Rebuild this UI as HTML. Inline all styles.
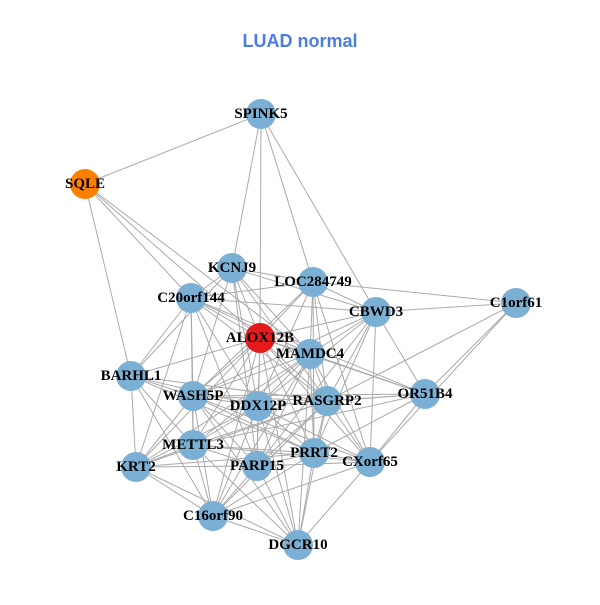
<!DOCTYPE html>
<html><head><style>
body{margin:0;background:#fff;width:600px;height:600px;overflow:hidden}
text{font-family:"Liberation Serif",serif;font-weight:bold;font-size:15px;text-anchor:middle;dominant-baseline:central}
</style></head><body>
<svg width="600" height="600" xmlns="http://www.w3.org/2000/svg">
<text x="300" y="41" style="font-family:'Liberation Sans',sans-serif;font-size:18px;fill:#4d7be6">LUAD normal</text>
<g stroke="#aaa" stroke-width="1" id="e"></g>
<g id="n"></g>
</svg>
<script>
var N={SPINK5:[261,114],SQLE:[85,184],KCNJ9:[232,268],LOC284749:[313,282],C20orf144:[191,298],CBWD3:[376,312],C1orf61:[516,303],ALOX12B:[260,338],MAMDC4:[310,354],BARHL1:[131,376],WASH5P:[193,396],DDX12P:[258,406],RASGRP2:[327,401],OR51B4:[425,394],METTL3:[193,445],PRRT2:[314,453],KRT2:[136,467],PARP15:[257,466],CXorf65:[370,462],C16orf90:[213,516],DGCR10:[298,545]};
var E="SPINK5 SQLE,SPINK5 KCNJ9,SPINK5 ALOX12B,SPINK5 LOC284749,SPINK5 CBWD3,SQLE C20orf144,SQLE BARHL1,SQLE ALOX12B,SQLE MAMDC4,KCNJ9 LOC284749,KCNJ9 C20orf144,KCNJ9 ALOX12B,KCNJ9 MAMDC4,KCNJ9 WASH5P,KCNJ9 DDX12P,KCNJ9 RASGRP2,KCNJ9 BARHL1,KCNJ9 PARP15,KCNJ9 CBWD3,LOC284749 C1orf61,LOC284749 C20orf144,LOC284749 CBWD3,LOC284749 ALOX12B,LOC284749 MAMDC4,LOC284749 DDX12P,LOC284749 RASGRP2,LOC284749 PRRT2,LOC284749 WASH5P,LOC284749 CXorf65,C20orf144 CBWD3,C20orf144 ALOX12B,C20orf144 MAMDC4,C20orf144 BARHL1,C20orf144 WASH5P,C20orf144 DDX12P,C20orf144 METTL3,C20orf144 RASGRP2,C20orf144 OR51B4,C20orf144 PARP15,C20orf144 KRT2,CBWD3 C1orf61,CBWD3 ALOX12B,CBWD3 MAMDC4,CBWD3 RASGRP2,CBWD3 DDX12P,CBWD3 PRRT2,CBWD3 CXorf65,CBWD3 PARP15,CBWD3 OR51B4,CBWD3 WASH5P,C1orf61 OR51B4,C1orf61 CXorf65,C1orf61 RASGRP2,ALOX12B MAMDC4,ALOX12B BARHL1,ALOX12B WASH5P,ALOX12B DDX12P,ALOX12B RASGRP2,ALOX12B OR51B4,ALOX12B METTL3,ALOX12B PARP15,ALOX12B PRRT2,ALOX12B KRT2,ALOX12B CXorf65,ALOX12B C16orf90,ALOX12B DGCR10,MAMDC4 WASH5P,MAMDC4 DDX12P,MAMDC4 RASGRP2,MAMDC4 OR51B4,MAMDC4 METTL3,MAMDC4 PRRT2,MAMDC4 PARP15,MAMDC4 CXorf65,MAMDC4 KRT2,MAMDC4 C16orf90,MAMDC4 DGCR10,BARHL1 WASH5P,BARHL1 DDX12P,BARHL1 KRT2,BARHL1 METTL3,BARHL1 PRRT2,BARHL1 C16orf90,BARHL1 RASGRP2,WASH5P DDX12P,WASH5P RASGRP2,WASH5P METTL3,WASH5P KRT2,WASH5P PARP15,WASH5P PRRT2,WASH5P CXorf65,WASH5P C16orf90,WASH5P DGCR10,WASH5P OR51B4,DDX12P RASGRP2,DDX12P METTL3,DDX12P PARP15,DDX12P PRRT2,DDX12P CXorf65,DDX12P KRT2,DDX12P C16orf90,DDX12P DGCR10,DDX12P OR51B4,RASGRP2 OR51B4,RASGRP2 METTL3,RASGRP2 PRRT2,RASGRP2 PARP15,RASGRP2 CXorf65,RASGRP2 KRT2,RASGRP2 C16orf90,RASGRP2 DGCR10,OR51B4 CXorf65,OR51B4 PRRT2,OR51B4 METTL3,METTL3 KRT2,METTL3 PARP15,METTL3 PRRT2,METTL3 C16orf90,METTL3 DGCR10,METTL3 CXorf65,PRRT2 PARP15,PRRT2 CXorf65,PRRT2 C16orf90,PRRT2 DGCR10,PRRT2 KRT2,KRT2 C16orf90,KRT2 DGCR10,KRT2 PARP15,PARP15 C16orf90,PARP15 DGCR10,PARP15 CXorf65,CXorf65 DGCR10,CXorf65 C16orf90,C16orf90 DGCR10".split(",");
var s="http://www.w3.org/2000/svg",ge=document.getElementById("e"),gn=document.getElementById("n");
E.forEach(function(p){var a=p.split(" "),A=N[a[0]],B=N[a[1]];var l=document.createElementNS(s,"line");l.setAttribute("x1",A[0]);l.setAttribute("y1",A[1]);l.setAttribute("x2",B[0]);l.setAttribute("y2",B[1]);ge.appendChild(l);});
for(var k in N){var c=document.createElementNS(s,"circle");c.setAttribute("cx",N[k][0]);c.setAttribute("cy",N[k][1]);c.setAttribute("r",15);c.setAttribute("fill",k=="SQLE"?"#ff7f00":k=="ALOX12B"?"#e41a1c":"#7bafd4");gn.appendChild(c);}
for(var k in N){var t=document.createElementNS(s,"text");t.setAttribute("x",N[k][0]);t.setAttribute("y",N[k][1]);t.textContent=k;gn.appendChild(t);}
</script>
</body></html>
